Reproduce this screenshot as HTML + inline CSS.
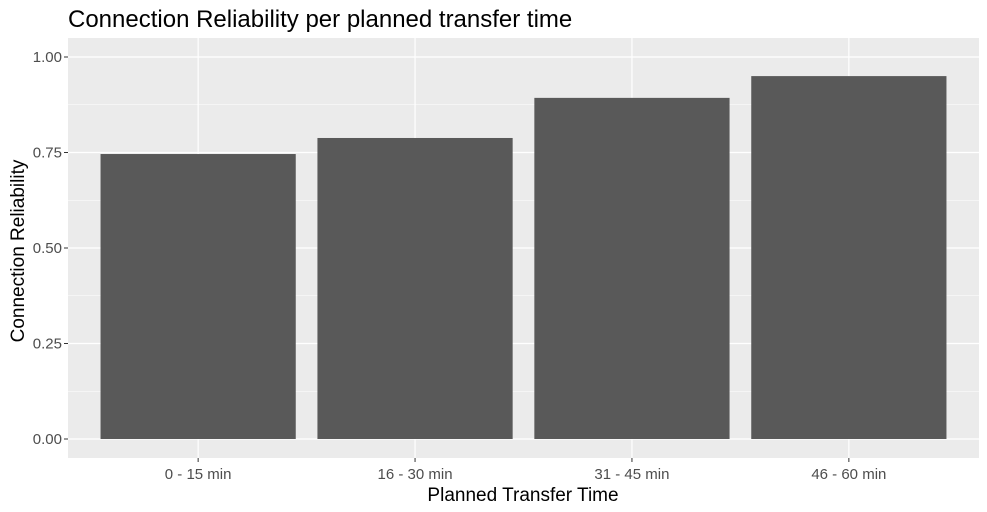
<!DOCTYPE html>
<html><head><meta charset="utf-8"><style>
body{margin:0;background:#fff;}
svg{display:block;font-family:"Liberation Sans",Arial,sans-serif;}
</style></head><body>
<svg id="chart" width="987" height="512" viewBox="0 0 987 512">
<text x="68" y="27" font-size="24" fill="#000">Connection Reliability per planned transfer time</text>
<rect x="68" y="38" width="911" height="420" fill="#ebebeb"/>
<g id="grid"></g>
<g id="bars"></g>
<g id="ticks"></g>
<text x="523" y="501" font-size="19" text-anchor="middle" fill="#000">Planned Transfer Time</text>
<text transform="translate(24,251) rotate(-90)" font-size="19" text-anchor="middle" fill="#000">Connection Reliability</text>
</svg>
<script>
const categories = ["0 - 15 min","16 - 30 min","31 - 45 min","46 - 60 min"];
const values = [0.746, 0.788, 0.893, 0.950];
const yTicks = [0, 0.25, 0.5, 0.75, 1.0];
const yTickLabels = ["0.00","0.25","0.50","0.75","1.00"];

const NS="http://www.w3.org/2000/svg";
const px0=68, pw=911, y0=439, y1=57;
const unit=pw/(categories.length+0.2);
function xScale(i){return px0+(i+0.6)*unit;}
function yScale(v){return y0-(y0-y1)*v;}
function mk(tag,attrs,parent){const e=document.createElementNS(NS,tag);for(const k in attrs)e.setAttribute(k,attrs[k]);parent.appendChild(e);return e;}
const grid=document.getElementById('grid'), bars=document.getElementById('bars'), ticks=document.getElementById('ticks');
for(let i=0;i<yTicks.length-1;i++){
  const m=(yTicks[i]+yTicks[i+1])/2;
  const l=mk('line',{x1:68,x2:979,y1:yScale(m),y2:yScale(m),stroke:'#fff','stroke-width':0.6},grid);
  
  
}
yTicks.forEach((t,i)=>{
  const l=mk('line',{x1:68,x2:979,y1:yScale(t),y2:yScale(t),stroke:'#fff','stroke-width':1.2},grid);
  
  
  mk('line',{x1:64,x2:68,y1:yScale(t),y2:yScale(t),stroke:'#333','stroke-width':1},ticks);
  const tx=mk('text',{x:62,y:yScale(t)+5,'font-size':15,'text-anchor':'end',fill:'#4d4d4d'},ticks);
  tx.textContent=yTickLabels[i];
  
  
});
categories.forEach((c,i)=>{
  const cx=xScale(i);
  const g=mk('line',{x1:cx,x2:cx,y1:38,y2:458,stroke:'#fff','stroke-width':1.2},grid);
  
  
  const bw=unit*0.9;
  const r=mk('rect',{x:cx-bw/2,y:yScale(values[i]),width:bw,height:yScale(0)-yScale(values[i]),fill:'#595959'},bars);
  
  
  mk('line',{x1:cx,x2:cx,y1:458,y2:462,stroke:'#333','stroke-width':1},ticks);
  const tx=mk('text',{x:cx,y:479,'font-size':15,'text-anchor':'middle',fill:'#4d4d4d'},ticks);
  tx.textContent=c;
  
  
});
</script>
</body></html>
